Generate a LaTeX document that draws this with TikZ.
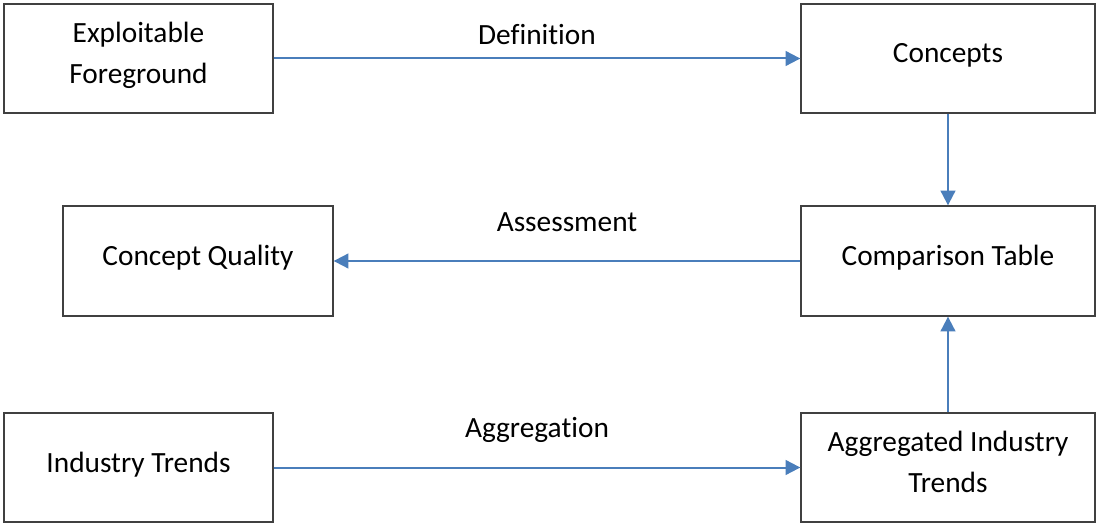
\documentclass[tikz,border=0pt]{standalone}
\usepackage{fontspec}
\setmainfont{Carlito}[Ligatures=NoCommon]
\usetikzlibrary{arrows.meta}
\definecolor{flowblue}{RGB}{74,126,187}

\begin{document}
\begin{tikzpicture}[x=0.75pt, y=-0.75pt, font=\fontsize{22}{31}\selectfont,
	box/.style={draw=black!75, line width=1pt, align=center, inner sep=0pt,
		text depth=8.3pt, minimum width=201.75pt, minimum height=81.75pt},
	widebox/.style={box, minimum width=220.5pt},
	flow/.style={draw=flowblue, line width=1.5pt, -{Triangle[length=11pt,width=11pt]}},
	flowlabel/.style={midway, yshift=18pt}]

\useasboundingbox (0,0) rectangle (1097,524);

% Create the nodes
\node[box] (foreground) at (138.5,58.5) {Exploitable\\Foreground};
\node[widebox] (concepts) at (948,58.5) {Concepts};
\node[box, minimum width=202.5pt, minimum height=82.5pt] (quality) at (198,261) {Concept Quality};
\node[widebox, minimum height=82.5pt] (table) at (948,261) {Comparison Table};
\node[box] (trends) at (138.5,467.5) {Industry Trends};
\node[widebox] (aggtrends) at (948,467.5) {Aggregated Industry\\Trends};

% Connect them
\draw[flow] (foreground) -- node[flowlabel] {Definition} (concepts);
\draw[flow] (concepts) -- (table);
\draw[flow] (table) -- node[flowlabel, yshift=11pt] {Assessment} (quality);
\draw[flow] (trends) -- node[flowlabel, yshift=10pt] {Aggregation} (aggtrends);
\draw[flow] (aggtrends) -- (table);

\end{tikzpicture}
\end{document}
